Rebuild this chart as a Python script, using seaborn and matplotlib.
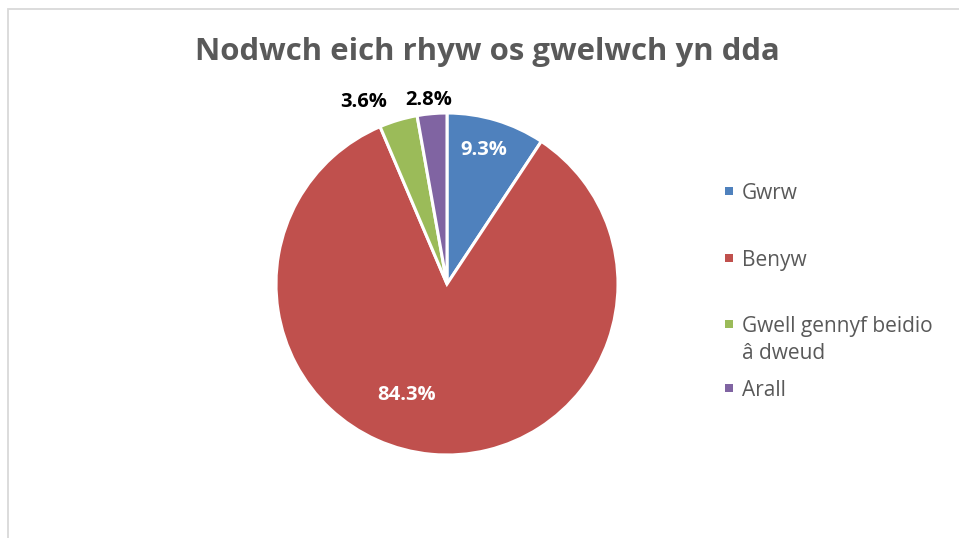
import numpy as np
import matplotlib
matplotlib.use("Agg")
import matplotlib.pyplot as plt
from matplotlib.patches import Rectangle
import seaborn as sns

# Survey data: gender of respondents (percent)
categories = ["Gwrw", "Benyw", "Gwell gennyf beidio\nâ dweud", "Arall"]
shares = [9.3, 84.3, 3.6, 2.8]
pct_labels = ["9.3%", "84.3%", "3.6%", "2.8%"]
title = "Nodwch eich rhyw os gwelwch yn dda"

sns.set_style("white")
plt.rcParams["font.family"] = ["Open Sans", "DejaVu Sans"]

colors = ["#4F81BD", "#C0504D", "#9BBB59", "#8064A2"]
text_grey = "#595959"

fig = plt.figure(figsize=(9.59, 5.38), dpi=100)
W, H = 959, 538

# chart-area frame (only top and left edges fall inside the canvas)
fig.patches.append(Rectangle((8 / W, -0.1), 1.2, (538 - 9) / H + 0.1,
                             transform=fig.transFigure, fill=False,
                             edgecolor="#D9D9D9", linewidth=1.3))

# pie axes: centre (447, 284) px, radius 171 px
R = 171
ax = fig.add_axes([(447 - R) / W, (H - 284 - R) / H, 2 * R / W, 2 * R / H])
wedges, _ = ax.pie(shares, colors=colors, startangle=90, counterclock=False,
                   radius=1.0,
                   wedgeprops=dict(edgecolor="white", linewidth=2.2))
ax.set_xlim(-1, 1)
ax.set_ylim(-1, 1)
ax.set_aspect("equal")
ax.axis("off")

# data labels: (radius, angular nudge in degrees, colour)
label_style = [(0.81, 1.5, "white"), (0.69, -15.0, "white"),
               (1.17, 8.0, "black"), (1.08, 0.5, "black")]
for w, txt, (r, nudge, col) in zip(wedges, pct_labels, label_style):
    mid = np.deg2rad((w.theta1 + w.theta2) / 2 + nudge)
    ax.text(r * np.cos(mid), r * np.sin(mid), txt, ha="center", va="center",
            color=col, fontsize=14.5, fontweight="bold", clip_on=False)

fig.text(487 / W, 1 - 52 / H, title, ha="center", va="center",
         fontsize=22.4, fontweight="bold", color=text_grey)

# legend: marker square + one text per line
baselines = [199, 266, 332, 396]
line_step = 27
for cat, col, yb in zip(categories, colors, baselines):
    fig.patches.append(Rectangle((725 / W, 1 - (yb - 4) / H), 8 / W, 8 / H,
                                 transform=fig.transFigure, facecolor=col,
                                 edgecolor="none"))
    for i, line in enumerate(cat.split("\n")):
        fig.text(742 / W, 1 - (yb + i * line_step) / H, line, ha="left",
                 va="baseline", fontsize=15, color=text_grey)

fig.savefig("out.png", dpi=100)
